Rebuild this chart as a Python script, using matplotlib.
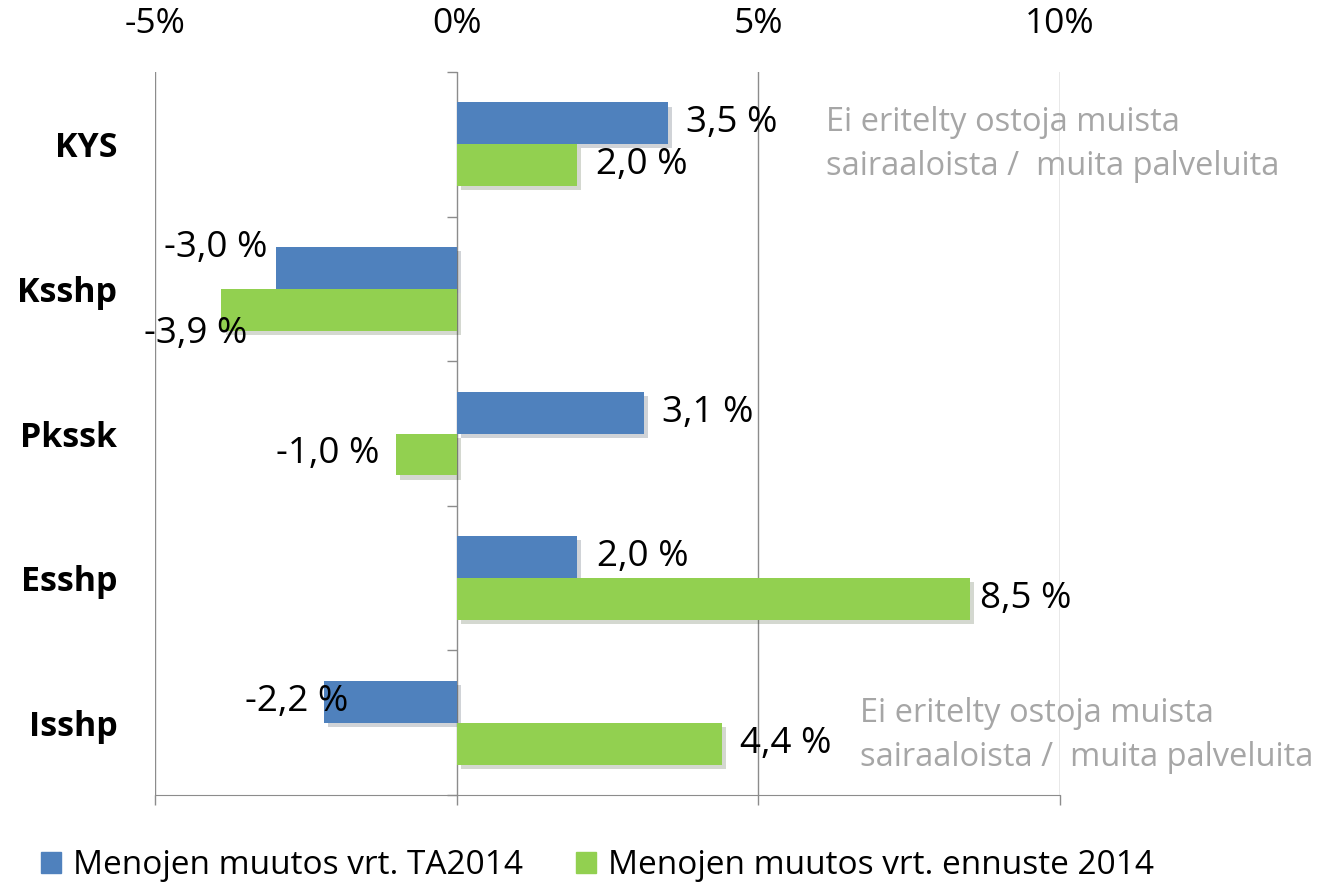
import numpy as np
import matplotlib
matplotlib.use("Agg")
import matplotlib.pyplot as plt
from matplotlib.patches import Patch
from matplotlib import patheffects as pe

plt.rcParams['font.family'] = ['Open Sans', 'DejaVu Sans']

categories = ["KYS", "Ksshp", "Pkssk", "Esshp", "Isshp"]
ta2014 = [3.5, -3.0, 3.1, 2.0, -2.2]
ennuste2014 = [2.0, -3.9, -1.0, 8.5, 4.4]
ta2014_labels = ["3,5 %", "-3,0 %", "3,1 %", "2,0 %", "-2,2 %"]
ennuste_labels = ["2,0 %", "-3,9 %", "-1,0 %", "8,5 %", "4,4 %"]
series_names = ["Menojen muutos vrt. TA2014", "Menojen muutos vrt. ennuste 2014"]
xticks = [-5, 0, 5, 10]
xtick_labels = ["-5%", "0%", "5%", "10%"]
note = "Ei eritelty ostoja muista\nsairaaloista /  muita palveluita"

blue = "#4F81BD"
green = "#92D050"
grid_col = "#8C8C8C"

fig = plt.figure(figsize=(13.28, 8.86), dpi=100)
ax = fig.add_axes([0.1167, 0.1027, 0.6815, 0.816])

y = np.arange(len(categories))
h = 0.29
shadow = [pe.SimplePatchShadow(offset=(3, -3), alpha=0.2), pe.Normal()]
b1 = ax.barh(y - h / 2, ta2014, height=h, color=blue, zorder=3)
b2 = ax.barh(y + h / 2, ennuste2014, height=h, color=green, zorder=3)
for bar in list(b1) + list(b2):
    bar.set_path_effects(shadow)

ax.set_xlim(-5, 10)
ax.set_ylim(len(categories) - 0.5, -0.5)

# value axis: labels on top, small ticks on the bottom line
ax.set_xticks(xticks)
ax.set_xticklabels(xtick_labels)
ax.tick_params(axis='x', top=False, bottom=True, labeltop=True, labelbottom=False,
               length=7.5, width=1, color=grid_col, labelsize=25.5, pad=15)
ax.grid(axis='x', color=grid_col, linewidth=1, zorder=0)

# category labels
ax.set_yticks(y)
ax.set_yticklabels(categories, fontweight='bold', fontsize=24.5)
ax.tick_params(axis='y', length=0, pad=27)

for s in ['top', 'right', 'left']:
    ax.spines[s].set_visible(False)
ax.spines['bottom'].set_color(grid_col)

# category axis at 0 with boundary ticks
bounds = np.arange(len(categories) + 1) - 0.5
ax.plot(np.zeros_like(bounds), bounds, ls='none', marker=0, markersize=7.5,
        markeredgewidth=1, color=grid_col, zorder=2, clip_on=False)

# data labels (offsets in pixels)
off1 = [(18, 0), (-8, 20), (18, 0), (20, 0), (24, 0)]
off2 = [(19, 0), (26, -24), (-17, 0), (10, 0), (18, 0)]
for i in range(len(categories)):
    for vals, labs, offs, yy in [(ta2014, ta2014_labels, off1, y[i] - h / 2),
                                 (ennuste2014, ennuste_labels, off2, y[i] + h / 2)]:
        v = vals[i]
        dx, dy = offs[i]
        ax.annotate(labs[i], xy=(v, yy), xytext=(dx, dy), textcoords='offset pixels',
                    ha='left' if v > 0 else 'right', va='center', fontsize=26.5,
                    color='black', zorder=5)

ax.text(0.741, 0.9, note, transform=ax.transAxes, ha='left', va='center',
        fontsize=23.5, color='#A6A6A6', linespacing=1.45)
ax.text(0.779, 0.082, note, transform=ax.transAxes, ha='left', va='center',
        fontsize=23.5, color='#A6A6A6', linespacing=1.45)

handles = [Patch(color=blue), Patch(color=green)]
fig.legend(handles, series_names, loc='center', bbox_to_anchor=(0.45, 0.023), ncol=2,
           frameon=False, fontsize=24, handlelength=0.6, handleheight=0.6,
           handletextpad=0.36, columnspacing=1.6)

fig.savefig("out.png", dpi=100)
